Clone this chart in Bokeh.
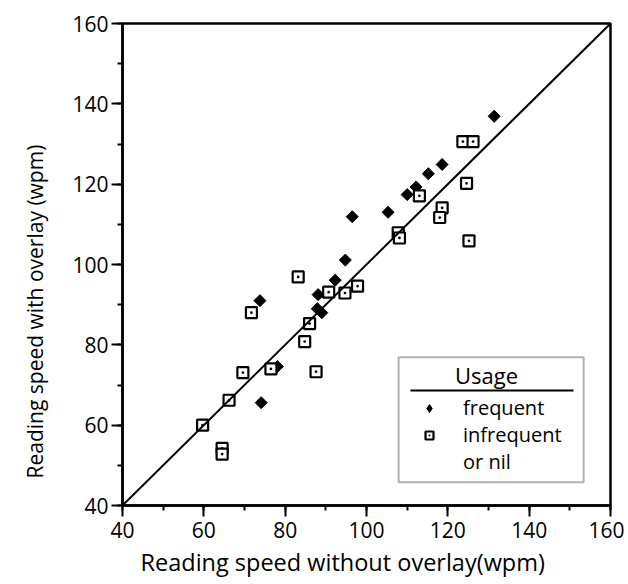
import math
from bokeh.plotting import figure
from bokeh.models import (Range1d, SingleIntervalTicker, Slope, BoxAnnotation, Label,
                          Legend, LegendItem, Arrow, Title)
from bokeh.embed import file_html
from bokeh.resources import INLINE

# ---- data ----
freq_x = [131.4, 118.6, 115.2, 112.2, 110.0, 105.3, 96.5, 94.8, 92.3, 88.1, 87.9, 89.0, 73.8, 78.1, 74.1]
freq_y = [136.9, 124.9, 122.6, 119.3, 117.4, 113.0, 111.9, 101.1, 96.1, 92.5, 89.0, 88.0, 91.0, 74.6, 65.6]

infreq_x = [123.7, 126.2, 124.6, 113.0, 118.6, 118.0, 125.2, 107.8, 108.1, 97.8, 94.7, 90.7,
            83.2, 86.0, 84.8, 71.7, 87.6, 76.5, 69.6, 66.2, 59.7, 64.5, 64.5]
infreq_y = [130.6, 130.6, 120.2, 117.1, 114.1, 111.7, 105.9, 107.9, 106.6, 94.6, 92.9, 93.1,
            96.9, 85.3, 80.8, 88.0, 73.3, 74.0, 73.1, 66.2, 60.0, 54.2, 52.8]

x_label = "Reading speed without overlay(wpm)"
y_label = "Reading speed with overlay (wpm)"
legend_title = "Usage"
legend_labels = ["frequent", "infrequent", "or nil"]

FONT = "Open Sans"

p = figure(width=624, height=582, output_backend="svg", toolbar_location=None,
           x_range=Range1d(40, 160), y_range=Range1d(40, 160),
           min_border_left=122, min_border_right=14, min_border_top=23, min_border_bottom=77)
p.grid.visible = False
p.outline_line_color = "black"
p.outline_line_width = 2.5
p.background_fill_color = "white"
p.border_fill_color = "white"

for ax in (p.xaxis[0], p.yaxis[0]):
    ax.ticker = SingleIntervalTicker(interval=20, num_minor_ticks=2)
    ax.axis_line_width = 2.5
    ax.axis_line_color = "black"
    ax.major_tick_line_width = 2
    ax.minor_tick_line_width = 2
    ax.major_tick_line_color = "black"
    ax.minor_tick_line_color = "black"
    ax.major_tick_out = 11
    ax.major_tick_in = 0
    ax.minor_tick_out = 5
    ax.minor_tick_in = 0
    ax.major_label_text_font = FONT
    ax.major_label_text_font_size = "21px"
    ax.major_label_text_color = "black"
p.xaxis.major_label_standoff = 5
p.yaxis.major_label_standoff = 3

# axis titles, set off-centre as in the reference
p.add_layout(Title(text=x_label, align="left", offset=18, standoff=6,
                   text_font=FONT, text_font_size="23.5px", text_font_style="normal",
                   text_color="black"), "below")
p.add_layout(Title(text=y_label, align="left", offset=27, standoff=37, vertical_align="top",
                   text_font=FONT, text_font_size="21px", text_font_style="normal",
                   text_color="black"), "left")

p.add_layout(Slope(gradient=1, y_intercept=0, line_color="black", line_width=2))

r_freq = p.scatter(freq_x, freq_y, marker="square", angle=math.pi / 4, size=8.5,
                   fill_color="black", line_color="black", line_width=1)
r_inf = p.scatter(infreq_x, infreq_y, marker="square_dot", size=11,
                  fill_color="white", line_color="black", line_width=2.2)
# legend-only key glyphs (not drawn in the plot area)
nan = float("nan")
r_freq_key = p.scatter(x=[nan], y=[nan], marker="diamond", size=14,
                       fill_color="black", line_color="black", line_width=1)
r_blank = p.scatter(x=[nan], y=[nan], marker="square", size=1, fill_alpha=0, line_alpha=0)

# legend frame
box = BoxAnnotation(left=107.9, right=153.4, bottom=45.8, top=76.9,
                    fill_color="white", fill_alpha=1.0, line_color="black", line_width=2)
p.add_layout(box)

legend = Legend(items=[LegendItem(label=legend_labels[0], renderers=[r_freq_key]),
                       LegendItem(label=legend_labels[1], renderers=[r_inf]),
                       LegendItem(label=legend_labels[2], renderers=[r_blank])],
                location=(297, 30), orientation="vertical", padding=0, margin=0, spacing=0,
                border_line_color=None, background_fill_alpha=0,
                glyph_width=20, glyph_height=26, label_height=26, label_standoff=24,
                label_text_font=FONT, label_text_font_size="20px", label_text_color="black")
p.add_layout(legend)

p.add_layout(Label(x=129.5, y=72.4, text=legend_title, text_align="center", text_baseline="middle",
                   text_font=FONT, text_font_size="22px", text_color="black"))
p.add_layout(Arrow(end=None, x_start=110.8, y_start=68.6, x_end=150.9, y_end=68.6,
                   line_color="black", line_width=2))

open("out.html", "w").write(file_html(p, INLINE))
